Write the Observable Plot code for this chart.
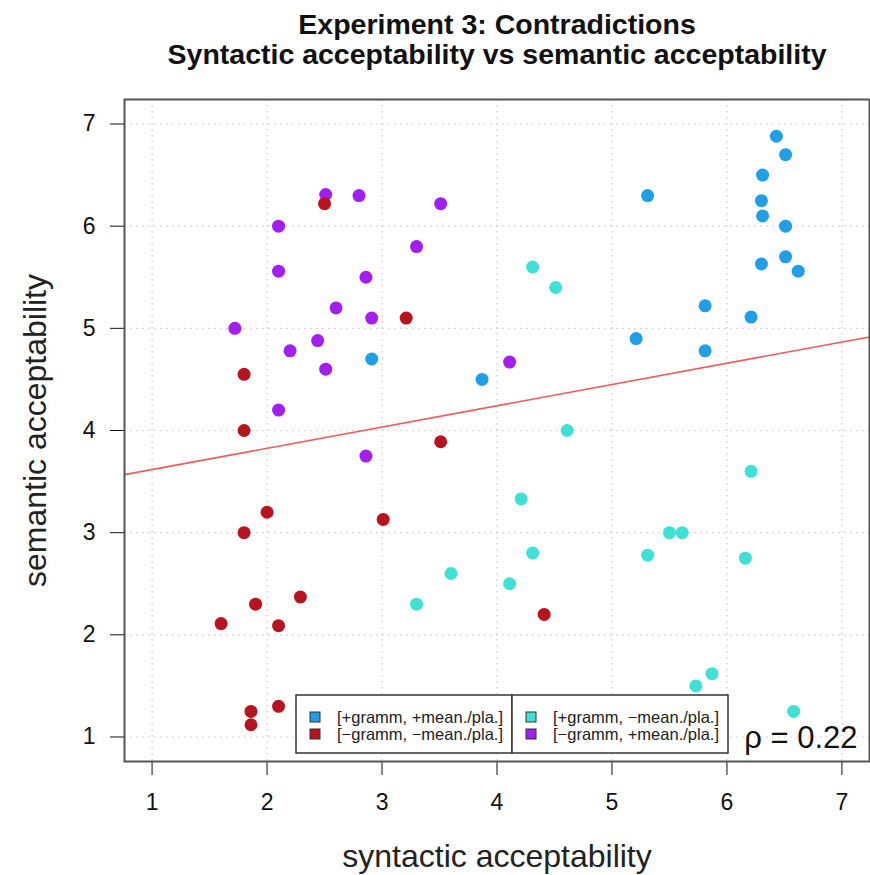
<!DOCTYPE html>
<html>
<head>
<meta charset="utf-8">
<script src="https://cdn.jsdelivr.net/npm/d3@7"></script>
<script src="https://cdn.jsdelivr.net/npm/@observablehq/plot@0.6"></script>
<style>
  body { margin: 0; background: #fff; }
  #chart { width: 870px; height: 875px; }
</style>
</head>
<body>
<div id="chart"></div>
<script>
// Condition labels and colours
const groupLabels = [
  "[+gramm, +mean./pla.]",
  "[+gramm, −mean./pla.]",
  "[−gramm, +mean./pla.]",
  "[−gramm, −mean./pla.]"
];
const groupColors = ["#1f9fe8", "#3fe0d6", "#a21ff0", "#b8141f"];

// [+gramm, +mean./pla.]
const synPP = [6.43, 6.51, 6.31, 5.31, 6.30, 6.31, 6.51, 6.51, 6.30, 6.62, 5.81, 6.21, 5.21, 5.81, 3.87, 2.91];
const semPP = [6.88, 6.70, 6.50, 6.30, 6.25, 6.10, 6.00, 5.70, 5.63, 5.56, 5.22, 5.11, 4.90, 4.78, 4.50, 4.70];

// [+gramm, −mean./pla.]
const synPM = [4.31, 4.51, 4.61, 6.21, 4.21, 5.50, 5.61, 4.31, 5.31, 6.16, 3.60, 4.11, 3.30, 5.87, 5.73, 6.58];
const semPM = [5.60, 5.40, 4.00, 3.60, 3.33, 3.00, 3.00, 2.80, 2.78, 2.75, 2.60, 2.50, 2.30, 1.62, 1.50, 1.25];

// [−gramm, +mean./pla.]
const synMP = [2.51, 2.80, 3.51, 2.10, 3.30, 2.10, 2.86, 2.60, 2.91, 1.72, 2.44, 2.20, 2.51, 2.10, 2.86, 4.11];
const semMP = [6.31, 6.30, 6.22, 6.00, 5.80, 5.56, 5.50, 5.20, 5.10, 5.00, 4.88, 4.78, 4.60, 4.20, 3.75, 4.67];

// [−gramm, −mean./pla.]
const synMM = [2.50, 3.21, 1.80, 1.80, 3.51, 2.00, 3.01, 1.80, 2.29, 1.90, 1.60, 2.10, 4.41, 2.10, 1.86, 1.86];
const semMM = [6.22, 5.10, 4.55, 4.00, 3.89, 3.20, 3.13, 3.00, 2.37, 2.30, 2.11, 2.09, 2.20, 1.30, 1.25, 1.12];

const tickValues = [1, 2, 3, 4, 5, 6, 7];
const axisLimits = [1, 7];
const rho = 0.22;
const fitIntercept = 3.41;
const fitSlope = 0.208;

const titleLines = [
  "Experiment 3: Contradictions",
  "Syntactic acceptability vs semantic acceptability"
];

const series = [[synPP, semPP], [synPM, semPM], [synMP, semMP], [synMM, semMM]];
const rows = series.flatMap(([xs, ys], g) =>
  xs.map((x, i) => ({ group: groupLabels[g], syn: x, sem: ys[i] }))
);

// axis range padded by 4% on each side
const pad = 0.04 * (axisLimits[1] - axisLimits[0]);
const domain = [axisLimits[0] - pad, axisLimits[1] + pad];
const fitLine = domain.map(x => ({ x, y: fitIntercept + fitSlope * x }));

const font = "'Liberation Sans', Arial, Helvetica, sans-serif";
const gridStyle = { stroke: "#c8c8c8", strokeWidth: 1.2, strokeDasharray: "1.5,4.5" };

const plot = Plot.plot({
  width: 870,
  height: 875,
  marginLeft: 124,
  marginRight: 1,
  marginTop: 99,
  marginBottom: 114,
  style: { fontFamily: font, fontSize: "23px", color: "#111", background: "#fff", overflow: "visible" },
  x: { domain, ticks: tickValues, tickFormat: "d", tickSize: 14, tickPadding: 18, label: null },
  y: { domain, ticks: tickValues, tickFormat: "d", tickSize: 14, tickPadding: 15, label: null },
  color: { domain: groupLabels, range: groupColors },
  marks: [
    Plot.ruleX(tickValues, gridStyle),
    Plot.ruleY(tickValues, gridStyle),
    Plot.line(fitLine, { x: "x", y: "y", stroke: "#f05a5a", strokeWidth: 1.6 }),
    Plot.dot(rows, { x: "syn", y: "sem", fill: "group", r: 6.5 }),
    Plot.frame({ stroke: "#555", strokeWidth: 2 }),
    // two-line bold title centred over the panel
    Plot.text([titleLines.join("\n")], {
      frameAnchor: "top", lineAnchor: "middle", lineHeight: 1.06, dy: -60,
      fontSize: 28.5, fontWeight: "bold", fill: "#111"
    }),
    Plot.text(["syntactic acceptability"], {
      frameAnchor: "bottom", lineAnchor: "middle", dy: 95, fontSize: 32, fill: "#222"
    }),
    Plot.text(["semantic acceptability"], {
      frameAnchor: "left", textAnchor: "middle", lineAnchor: "middle",
      dx: -89, rotate: -90, fontSize: 32, fill: "#222"
    }),
    Plot.text([`ρ = ${rho}`], {
      frameAnchor: "bottom-right", dx: -12, dy: -14, textAnchor: "end", lineAnchor: "bottom",
      fontSize: 31, fill: "#111"
    })
  ]
});

// two-column boxed legend near the bottom of the panel
const svg = d3.select(plot);
const legend = svg.append("g")
  .attr("font-family", font)
  .attr("font-size", 16.5)
  .attr("text-anchor", "start");
const boxes = [
  { x: 296, w: 216, items: [0, 3] },
  { x: 512, w: 216, items: [1, 2] }
];
const boxTop = 695, boxH = 58, rowY = [717, 734];
boxes.forEach(b => {
  legend.append("rect")
    .attr("x", b.x).attr("y", boxTop).attr("width", b.w).attr("height", boxH)
    .attr("fill", "#fff").attr("stroke", "#333").attr("stroke-width", 1.5);
  b.items.forEach((gi, r) => {
    legend.append("rect")
      .attr("x", b.x + 14).attr("y", rowY[r] - 5).attr("width", 10).attr("height", 10)
      .attr("fill", groupColors[gi]).attr("stroke", "#333").attr("stroke-width", 1);
    legend.append("text")
      .attr("x", b.x + 41).attr("y", rowY[r]).attr("dy", "0.35em")
      .attr("text-anchor", "start")
      .attr("fill", "#222").text(groupLabels[gi]);
  });
});

document.getElementById("chart").appendChild(plot);
</script>
</body>
</html>
